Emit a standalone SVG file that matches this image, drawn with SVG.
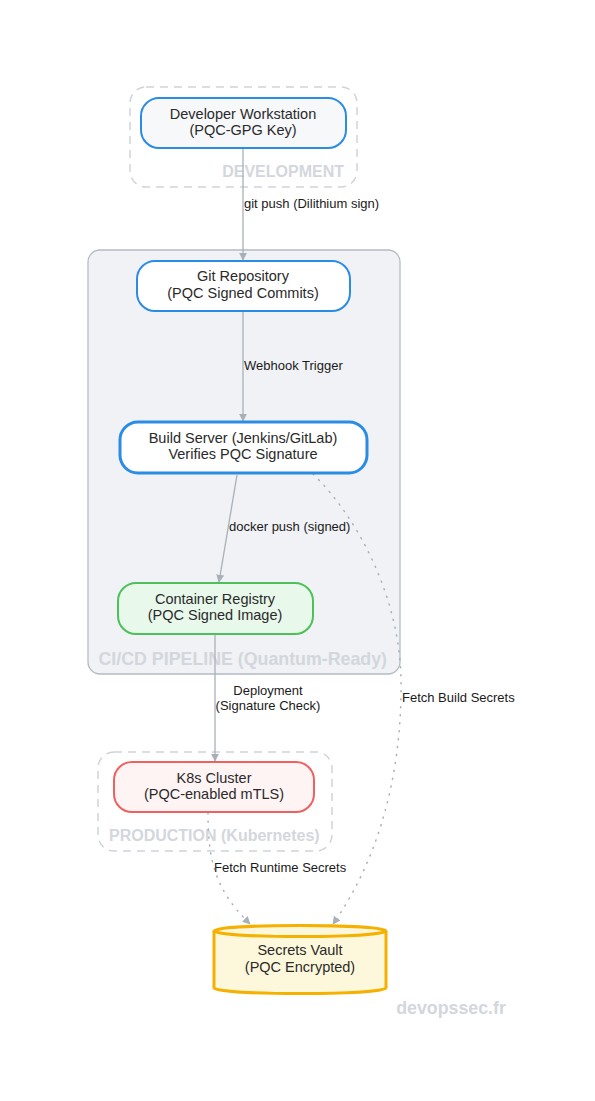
<svg xmlns="http://www.w3.org/2000/svg" width="595" height="1101" viewBox="0 0 595 1101">
<defs>
<marker id="arr" viewBox="0 0 10 10" refX="9" refY="5" markerWidth="8" markerHeight="8" markerUnits="userSpaceOnUse" orient="auto">
<path d="M0,0 L10,5 L0,10 z" fill="#a8b0b8"/>
</marker>
<style>
text{font-family:"Liberation Sans",Arial,sans-serif;}
.nt{font-size:14.5px;fill:#2a2a2a;text-anchor:middle;}
.el{font-size:13px;fill:#1a1a1a;}
.cl{font-size:16px;font-weight:bold;fill:#d3d7dd;}
.edge{fill:none;stroke:#a8b0b8;stroke-width:1.3;}
.dot{fill:none;stroke:#a8b0b8;stroke-width:1.5;stroke-dasharray:1 7;stroke-linecap:round;}
.dash{fill:none;stroke:#d0d4da;stroke-width:1.5;stroke-dasharray:8 6;}
</style>
</defs>
<rect width="595" height="1101" fill="#ffffff"/>
<g id="cluster-development">
<rect class="dash" x="130" y="87" width="227" height="100" rx="16"/>
<text class="cl" x="344" y="177" text-anchor="end">DEVELOPMENT</text>
</g>
<g id="cluster-cicd">
<rect x="88" y="250" width="312" height="424" rx="12" fill="#f0f2f5" stroke="#b4bcc4" stroke-width="1.3"/>
<text class="cl" x="387" y="665" text-anchor="end" style="font-size:17.8px">CI/CD PIPELINE (Quantum-Ready)</text>
</g>
<g id="cluster-production">
<rect class="dash" x="98" y="752" width="234" height="99" rx="16"/>
<text class="cl" x="109" y="841">PRODUCTION (Kubernetes)</text>
</g>
<g id="connectors">
<line class="edge" x1="243" y1="149" x2="243" y2="260" marker-end="url(#arr)"/>
<text class="el" x="244" y="208">git push (Dilithium sign)</text>
<line class="edge" x1="243" y1="312" x2="243" y2="421" marker-end="url(#arr)"/>
<text class="el" x="244" y="370">Webhook Trigger</text>
<line class="edge" x1="237" y1="475" x2="219" y2="582" marker-end="url(#arr)"/>
<text class="el" x="229" y="531">docker push (signed)</text>
<line class="edge" x1="215" y1="635" x2="215" y2="761" marker-end="url(#arr)"/>
<text class="el" x="268" y="695" text-anchor="middle">Deployment</text>
<text class="el" x="268" y="710" text-anchor="middle">(Signature Check)</text>
<path class="dot" d="M208,813 C208,860 215,890 250,924" marker-end="url(#arr)"/>
<text class="el" x="214" y="872">Fetch Runtime Secrets</text>
<path class="dot" d="M313,474 C360,520 400,600 401,680 C402,760 385,850 333,924" marker-end="url(#arr)"/>
<text class="el" x="402" y="702">Fetch Build Secrets</text>
</g>
<g id="node-dev">
<rect x="141" y="98" width="205" height="50" rx="18" fill="#f6f8fa" stroke="#2b8ce6" stroke-width="2"/>
<text class="nt" x="243" y="119">Developer Workstation</text>
<text class="nt" x="243" y="135">(PQC-GPG Key)</text>
</g>
<g id="node-git">
<rect x="137" y="261" width="213" height="50" rx="18" fill="#ffffff" stroke="#2b8ce6" stroke-width="2"/>
<text class="nt" x="243" y="281">Git Repository</text>
<text class="nt" x="243" y="298">(PQC Signed Commits)</text>
</g>
<g id="node-build">
<rect x="120" y="422" width="247" height="51" rx="18" fill="#ffffff" stroke="#2b8ce6" stroke-width="3"/>
<text class="nt" x="243" y="443">Build Server (Jenkins/GitLab)</text>
<text class="nt" x="243" y="459">Verifies PQC Signature</text>
</g>
<g id="node-registry">
<rect x="118" y="583" width="195" height="51" rx="18" fill="#e8f8ea" stroke="#4cc05a" stroke-width="2"/>
<text class="nt" x="215" y="604">Container Registry</text>
<text class="nt" x="215" y="620">(PQC Signed Image)</text>
</g>
<g id="node-k8s">
<rect x="114" y="762" width="200" height="50" rx="18" fill="#fff4f4" stroke="#f06060" stroke-width="2"/>
<text class="nt" x="214" y="783">K8s Cluster</text>
<text class="nt" x="214" y="799">(PQC-enabled mTLS)</text>
</g>
<g id="node-vault">
<path d="M214,931 L214,988 A86,5.5 0 0 0 386,988 L386,931" fill="#fdf8dc" stroke="#f5b000" stroke-width="3"/>
<ellipse cx="300" cy="931" rx="86" ry="5.5" fill="#fdf8dc" stroke="#f5b000" stroke-width="3"/>
<text class="nt" x="300" y="955">Secrets Vault</text>
<text class="nt" x="300" y="972">(PQC Encrypted)</text>
</g>
<text class="cl" x="451" y="1014" text-anchor="middle" style="font-size:17.8px">devopssec.fr</text>
</svg>
